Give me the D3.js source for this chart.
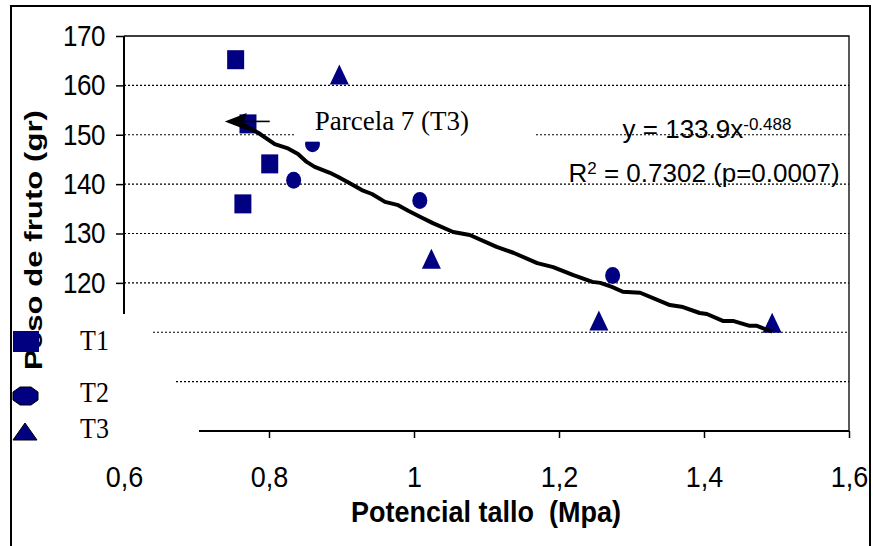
<!DOCTYPE html>
<html><head><meta charset="utf-8">
<script src="https://cdn.jsdelivr.net/npm/d3@7"></script>
<style>
html,body{margin:0;padding:0;background:#fff;}
svg{display:block;}
text{white-space:pre;}
</style></head>
<body>
<svg id="c" width="873" height="546"></svg>
<script>
// ---- data ----
const seriesNames = ["T1","T2","T3"];
const t1 = [[0.754,165.2],[0.771,152.2],[0.801,144.1],[0.764,136.0]];
const t2 = [[0.834,140.8],[0.860,148.2],[1.008,136.7],[1.274,121.5]];
const t3 = [[0.897,162.2],[1.024,124.9],[1.255,112.4],[1.494,111.9]];
const trendX = [0.760,0.785,0.808,0.825,0.840,0.852,0.863,0.884,0.895,0.909,0.928,0.942,0.960,0.977,0.992,1.011,1.026,1.054,1.077,1.114,1.137,1.170,1.192,1.219,1.246,1.257,1.273,1.288,1.312,1.353,1.371,1.394,1.404,1.426,1.440,1.463,1.473,1.494];
const trendY = [152.4,150.4,148.1,147.3,146.1,144.5,143.5,142.3,141.5,140.4,138.8,138.0,136.4,135.8,134.6,133.2,132.1,130.3,129.7,127.3,126.1,124.0,123.2,121.6,120.2,120.0,119.2,118.2,118.0,115.5,115.1,113.9,113.7,112.3,112.3,111.3,111.3,110.1];
const xTickValues = [0.6,0.8,1.0,1.2,1.4,1.6];
const xTickLabels = ["0,6","0,8","1","1,2","1,4","1,6"];
const yTickValues = [120,130,140,150,160,170];
const gridValues = [160,150,140,130,120,110,100];
const xTitle = "Potencial tallo  (Mpa)";
const yTitle = "Peso de fruto (gr)";
const annotText = "Parcela 7 (T3)";
const eqMain = "y = 133.9x", eqExp = "-0.488";
const r2Text = " = 0.7302 (p=0.0007)";

// ---- layout ----
const svg = d3.select("#c");
const navy = "#000080";
const sans = "'Liberation Sans', Arial, sans-serif";
const serif = "'Liberation Serif', 'Times New Roman', serif";
const x = d3.scaleLinear().domain([0.6,1.6]).range([124,849]);
const y = d3.scaleLinear().domain([90,170]).range([431,36]);
const gridStart = {110:153, 100:176};
const xAxisStart = 199;
const yAxisEndVal = 113.7;

// outer frame
svg.append("path").attr("d","M11,546V6H870V546").attr("fill","none").attr("stroke","#000").attr("stroke-width",2);

// gridlines
svg.append("g").selectAll("line").data(gridValues).join("line")
  .attr("x1",d=>gridStart[d]||x(0.6)).attr("x2",x(1.6))
  .attr("y1",d=>y(d)).attr("y2",d=>y(d))
  .attr("stroke","#000").attr("stroke-width",1.2).attr("stroke-dasharray","2,2");

// plot border top/right
svg.append("path").attr("d",`M${x(0.6)},${y(170)}H${x(1.6)}V${y(90)}`)
  .attr("fill","none").attr("stroke","#000").attr("stroke-width",1.3);

// y axis
const ya = svg.append("g").attr("transform",`translate(${x(0.6)},0)`)
  .call(d3.axisLeft(y).tickValues(yTickValues).tickSize(8).tickPadding(11).tickFormat(d3.format("d")));
ya.select(".domain").remove();
ya.selectAll(".tick line").attr("stroke-width",1.5);
ya.selectAll(".tick text").attr("font-family",sans).attr("font-size",26).attr("fill","#000")
  .attr("letter-spacing",-0.5).attr("transform","scale(1,1.13)");
svg.append("line").attr("x1",x(0.6)).attr("x2",x(0.6)).attr("y1",y(170)).attr("y2",y(yAxisEndVal))
  .attr("stroke","#000").attr("stroke-width",2);

// x axis
const xa = svg.append("g").attr("transform",`translate(0,${y(90)})`)
  .call(d3.axisBottom(x).tickValues(xTickValues).tickSize(7).tickFormat((d,i)=>xTickLabels[i]));
xa.select(".domain").remove();
xa.selectAll(".tick line").attr("stroke-width",1.5).filter(d=>x(d)<xAxisStart).remove();
xa.selectAll(".tick text").attr("font-family",sans).attr("font-size",27).attr("fill","#000")
  .attr("y",0).attr("dy",0).attr("transform","translate(0,56) scale(1,1.12)");
svg.append("line").attr("x1",xAxisStart).attr("x2",x(1.6)).attr("y1",y(90)).attr("y2",y(90))
  .attr("stroke","#000").attr("stroke-width",2);

// axis titles
svg.append("text").attr("transform","translate(486,522) scale(1,1.12)")
  .attr("text-anchor","middle").attr("font-family",sans).attr("font-weight","bold")
  .attr("font-size",27).text(xTitle);
svg.append("text").attr("transform","translate(42,240) rotate(-90) scale(1.3,1)")
  .attr("text-anchor","middle").attr("font-family",sans).attr("font-weight","bold")
  .attr("font-size",24).text(yTitle);

// markers
const sqW=17, sqH=19, ciRx=7.5, ciRy=8.5, trW=19, trH=20;
svg.append("g").selectAll("rect").data(t1).join("rect")
  .attr("x",d=>x(d[0])-sqW/2).attr("y",d=>y(d[1])-sqH/2).attr("width",sqW).attr("height",sqH).attr("fill",navy);
svg.append("g").selectAll("ellipse").data(t2).join("ellipse")
  .attr("cx",d=>x(d[0])).attr("cy",d=>y(d[1])).attr("rx",ciRx).attr("ry",ciRy).attr("fill",navy);
svg.append("g").selectAll("path").data(t3).join("path")
  .attr("d",d=>{const cx=x(d[0]),cy=y(d[1]);return `M${cx},${cy-trH/2}L${cx+trW/2},${cy+trH/2}L${cx-trW/2},${cy+trH/2}Z`;})
  .attr("fill",navy);

// trendline
const line = d3.line().x(d=>x(d[0])).y(d=>y(d[1]));
svg.append("path").datum(trendX.map((v,i)=>[v,trendY[i]])).attr("d",line)
  .attr("fill","none").attr("stroke","#000").attr("stroke-width",4).attr("stroke-linejoin","round");

// annotation box + label
svg.append("rect").attr("x",x(0.835)).attr("y",y(157)).attr("width",x(1.168)-x(0.835)).attr("height",y(148.6)-y(157)).attr("fill","#fff");
svg.append("text").attr("x",x(0.863)).attr("y",y(150.9)).attr("font-family",serif).attr("font-size",27).text(annotText);
// arrow
const tip=[0.739,152.7], tail=[0.801,152.7];
svg.append("line").attr("x1",x(tip[0])+18).attr("x2",x(tail[0])).attr("y1",y(tip[1])).attr("y2",y(tail[1]))
  .attr("stroke","#000").attr("stroke-width",1.6);
svg.append("path").attr("d",`M${x(tip[0])},${y(tip[1])}l22,-8.5l-3,8.5l3,8.5z`).attr("fill","#000");

// equation
const eq = svg.append("text").attr("x",707).attr("y",138).attr("text-anchor","middle")
  .attr("font-family",sans).attr("font-size",26);
eq.append("tspan").text(eqMain);
eq.append("tspan").attr("dy",-8).attr("font-size",17).text(eqExp);
const r2 = svg.append("text").attr("x",704).attr("y",182).attr("text-anchor","middle")
  .attr("font-family",sans).attr("font-size",26);
r2.append("tspan").text("R");
r2.append("tspan").attr("dy",-8).attr("font-size",17).text("2");
r2.append("tspan").attr("dy",8).text(r2Text);

// legend
const lg = svg.append("g");
const legY = [350,402,438];
lg.append("rect").attr("x",13).attr("y",331).attr("width",26).attr("height",21).attr("fill",navy);
lg.append("path").attr("d","M20,387H31L38,392V400L31,405H20L13,400V392Z").attr("fill",navy).attr("stroke","#000").attr("stroke-width",1);
lg.append("path").attr("d","M25,423L37,440H13Z").attr("fill",navy).attr("stroke","#000").attr("stroke-width",1);
lg.selectAll("text").data(seriesNames).join("text")
  .attr("transform",(d,i)=>`translate(80,${legY[i]}) scale(1,1.12)`)
  .attr("font-family",serif).attr("font-size",26).text(d=>d);
</script>
</body></html>
